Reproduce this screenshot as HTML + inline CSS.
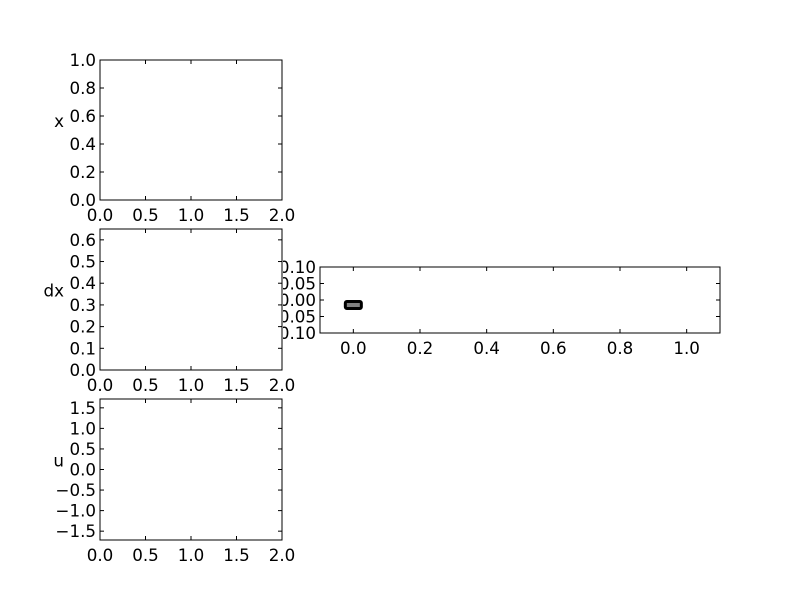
<!DOCTYPE html>
<html><head><meta charset="utf-8"><style>
body{margin:0;background:#fff;}
svg text{font-family:"DejaVu Sans","Liberation Sans",sans-serif;font-size:16.7px;fill:#000;}
</style></head><body>
<svg id="fig" width="800" height="600" xmlns="http://www.w3.org/2000/svg">
<defs><clipPath id="rclip"><rect x="283" y="0" width="517" height="600"/></clipPath></defs>
</svg>
<script>
const ax1XTicks = [0, 0.5, 1.0, 1.5, 2.0];
const ax1YTicks = [0, 0.2, 0.4, 0.6, 0.8, 1.0];
const ax2YTicks = [0, 0.1, 0.2, 0.3, 0.4, 0.5, 0.6];
const ax3YTicks = [-1.5, -1.0, -0.5, 0, 0.5, 1.0, 1.5];
const ax4XTicks = [0, 0.2, 0.4, 0.6, 0.8, 1.0];
const ax4YTicks = [-0.1, -0.05, 0, 0.05, 0.1];
const markerX = [0];
const markerY = [-0.015];

const NS = "http://www.w3.org/2000/svg";
const svg = document.getElementById('fig');
function mk(tag, attrs, parent, text){
  const e = document.createElementNS(NS, tag);
  for (const k in attrs) e.setAttribute(k, attrs[k]);
  if (text !== undefined) e.textContent = text;
  (parent || svg).appendChild(e);
  return e;
}
function fmt(v, d){ const s = Math.abs(v).toFixed(d); return (v < -1e-9 ? '\u2212' : '') + s; }

function axes(name, x0, y0, w, h, xmin, xmax, ymin, ymax, xt, xd, yt, yd, ylabel, clip){
  const g = mk('g', {});
  
  
  const sx = v => x0 + (v - xmin) / (xmax - xmin) * w;
  const sy = v => y0 + h - (v - ymin) / (ymax - ymin) * h;
  const frame = mk('rect', {x:x0, y:y0, width:w, height:h, fill:'#fff', stroke:'#000', 'stroke-width':1}, g);
  
  
  xt.forEach(v => {
    const x = sx(v);
    mk('line', {x1:x, x2:x, y1:y0+h, y2:y0+h-4, stroke:'#000'}, g);
    mk('line', {x1:x, x2:x, y1:y0, y2:y0+4, stroke:'#000'}, g);
    const t = mk('text', {x:x, y:y0+h+21, 'text-anchor':'middle'}, g, fmt(v, xd));
    
    
  });
  const lg = clip ? mk('g', {'clip-path':'url(#rclip)'}, g) : g;
  yt.forEach(v => {
    const y = sy(v);
    mk('line', {x1:x0, x2:x0+4, y1:y, y2:y, stroke:'#000'}, g);
    mk('line', {x1:x0+w, x2:x0+w-4, y1:y, y2:y, stroke:'#000'}, g);
    const t = mk('text', {x:x0-4, y:y+6, 'text-anchor':'end'}, lg, fmt(v, yd));
    
    
  });
  if (ylabel){
    const t = mk('text', {x:x0-36, y:y0+h/2-3, 'text-anchor':'end'}, g, ylabel);
    
    
  }
  return {sx, sy, g};
}

axes('x-axes', 100, 60, 182, 140, 0, 2, 0, 1, ax1XTicks, 1, ax1YTicks, 1, 'x', false);
axes('dx-axes', 100, 229, 182, 141, 0, 2, 0, 0.65, ax1XTicks, 1, ax2YTicks, 1, 'dx', false);
axes('u-axes', 100, 399, 182, 141, 0, 2, -1.715, 1.715, ax1XTicks, 1, ax3YTicks, 1, 'u', false);
const a4 = axes('state-axes', 320, 267, 400, 66, -0.1, 1.1, -0.1, 0.1, ax4XTicks, 1, ax4YTicks, 2, '', true);
markerX.forEach((v, i) => {
  const cx = a4.sx(v), cy = a4.sy(markerY[i]);
  const r = mk('rect', {x:cx-8, y:cy-3.5, width:16, height:7, rx:1.5, fill:'#808080', stroke:'#000', 'stroke-width':3}, a4.g);
  
  
});
</script>
</body></html>
